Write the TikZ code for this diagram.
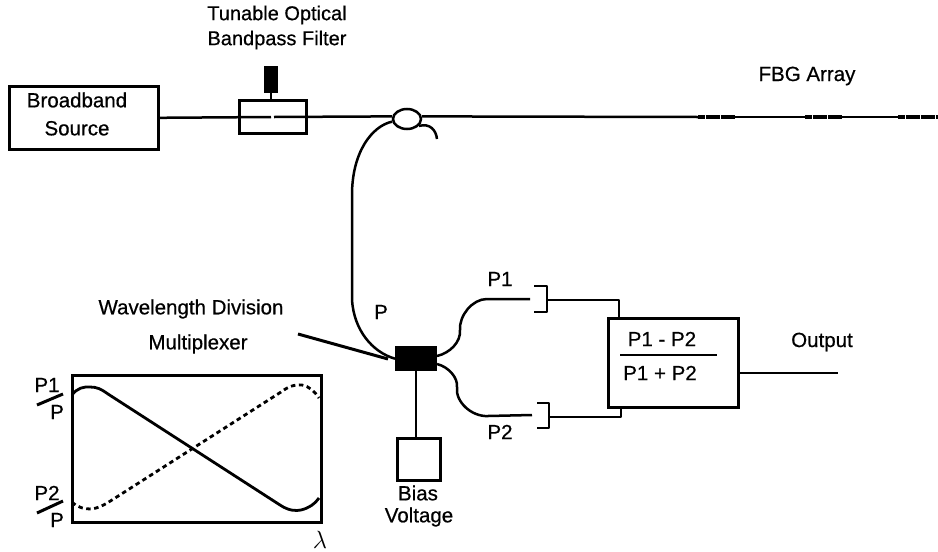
\documentclass[tikz,border=0pt]{standalone}
\usepackage{fontspec}
\setmainfont{Liberation Sans}[FakeBold=0.6]
\usetikzlibrary{shapes.geometric}
\tikzset{
 fiber/.style={line width=2.5pt,line join=round},
 boxn/.style={draw=black,line width=2.6pt,fill=white,inner sep=0pt,anchor=north west},
 lab/.style={font=\fontsize{20.5}{25}\selectfont,text=black,inner sep=0pt,align=center},
 grating/.style={line width=3.8pt,dash pattern=on 7pt off .5pt},
}
\begin{document}
\begin{tikzpicture}[x=1pt,y=-1pt]
\useasboundingbox (0,0) rectangle (938,552);
% source and filter
\node[boxn,minimum width=149pt,minimum height=63pt] (src) at (8,85) {};
\node[lab] (srct) at (77,114) {Broadband\\[3pt]Source};
\node[boxn,minimum width=67pt,minimum height=33pt] (flt) at (238,99) {};
\node[fill=black,minimum width=14pt,minimum height=27pt,inner sep=0pt,anchor=north west] (act) at (264,66) {};
\draw[fiber] (act.south) -- (act.south |- flt.north);
\node[lab,font=\fontsize{20}{25}\selectfont] (fltt) at (277,27.5) {Tunable Optical\\Bandpass Filter};
% coupler
\node[draw=black,line width=2.5pt,ellipse,minimum width=28pt,minimum height=20pt,inner sep=0pt] (cpl) at (407,119) {};
\coordinate (g0) at (271,117);
\coordinate (g00) at (274,117);
\draw[fiber] (src.east) -- (g0);
\draw[fiber] (g00) -- (cpl.170);
\coordinate (g1a) at (698,117); \coordinate (g1b) at (735,117);
\coordinate (g2a) at (805,117); \coordinate (g2b) at (842,117);
\coordinate (g3a) at (898,117); \coordinate (g3b) at (938,117);
\draw[fiber] (cpl.10) -- (g1a);
\coordinate (tail) at (437,139);
\draw[fiber] (cpl.-30) .. controls (430,123) and (436,130) .. (tail);
% FBG
\draw[grating] (g1a) -- (g1b);
\draw[fiber] (g1b) -- (g2a);
\draw[grating] (g2a) -- (g2b);
\draw[fiber] (g2b) -- (g3a);
\draw[grating] (g3a) -- (g3b);
\node[lab] (fbgt) at (807,76) {FBG Array};
% WDM
\node[fill=black,minimum width=42pt,minimum height=25pt,inner sep=0pt,anchor=north west] (wdm) at (395,346) {};
\draw[fiber] (cpl.190) .. controls (372,126) and (352,152) .. (352,195)
  -- (352,300) .. controls (354,330) and (372,352) .. (wdm.west);
\node[lab] (wdmt1) at (191,309) {Wavelength Division};
\node[lab] (wdmt2) at (198,344) {Multiplexer};
\coordinate (ptr) at (298,334);
\draw[line width=3pt] (ptr) -- (388,359);
\node[lab] (pt) at (381,312) {P};
% bias
\node[boxn,minimum width=43pt,minimum height=42pt] (bias) at (396,437) {};
\draw[fiber] (wdm.south -| 416,0) -- (bias.north -| 416,0);
\node[lab] (biast) at (418,493) {Bias};
\node[lab] (biast2) at (419,517) {Voltage};
% computation box
\node[boxn,minimum width=130pt,minimum height=89pt] (calcb) at (607,317) {};
\coordinate (barl) at (620,355); \coordinate (barr) at (717,355);
\draw[line width=2.8pt] (barl) -- (barr);
\node[lab] (n) at (662,339) {P1 - P2};
\node[lab] (d) at (660,373) {P1 + P2};
\coordinate (outend) at (838,373);
\draw[fiber] (calcb.east |- outend) -- (outend);
\node[lab] (outt) at (822,342) {Output};
% upper branch
\coordinate (b1) at (530,299);
\draw[fiber] (437,356) .. controls (450,353) and (461,342) .. (460,330)
  .. controls (459,316) and (472,299) .. (487,299) -- (b1);
\draw[fiber] (534,286) -- (547,286) -- (547,312) -- (534,312);
\draw[fiber] (547,300) -- (619,300) -- (619,317);
\node[lab] (p1) at (500,279) {P1};
% lower branch
\coordinate (b2) at (532,415);
\draw[fiber] (437,364) .. controls (449,367) and (458,378) .. (457,387)
  .. controls (455,402) and (472,417) .. (488,416) -- (b2);
\draw[fiber] (537,403) -- (549,403) -- (549,428) -- (537,428);
\draw[fiber] (549,417) -- (621,417) -- (621,406);
\node[lab] (p2) at (500,432) {P2};
% plot
\node[boxn,fill=none,line width=2.8pt,minimum width=249pt,minimum height=147pt] (plot) at (71,374) {};
\draw[line width=2.8pt] (72,395) .. controls (77,388) and (84,386.5) .. (90,387)
  .. controls (97,387) and (101,389) .. (108,394)
  -- (280,505) .. controls (289,511) and (296,511) .. (301,510)
  .. controls (309,508) and (315,504) .. (319,498);
\draw[line width=2.8pt,dash pattern=on 4.5pt off 3.5pt] (72,502) .. controls (78,508) and (85,509) .. (91,509)
  .. controls (99,508) and (104,505) .. (112,500)
  -- (281,392) .. controls (289,386) and (296,384) .. (302,385)
  .. controls (309,386) and (315,392) .. (319,398);
\node[lab] (y1) at (47,385) {P1};
\draw[line width=3pt] (37,405) -- (63,394);
\node[lab] (y1b) at (57,412) {P};
\node[lab] (y2) at (47,493) {P2};
\draw[line width=3pt] (37,513) -- (63,501);
\node[lab] (y2b) at (57,520) {P};
\node[font=\fontsize{26}{26}\selectfont,inner sep=0pt] (lam) at (320,540) {$\lambda$};
\end{tikzpicture}
\end{document}
